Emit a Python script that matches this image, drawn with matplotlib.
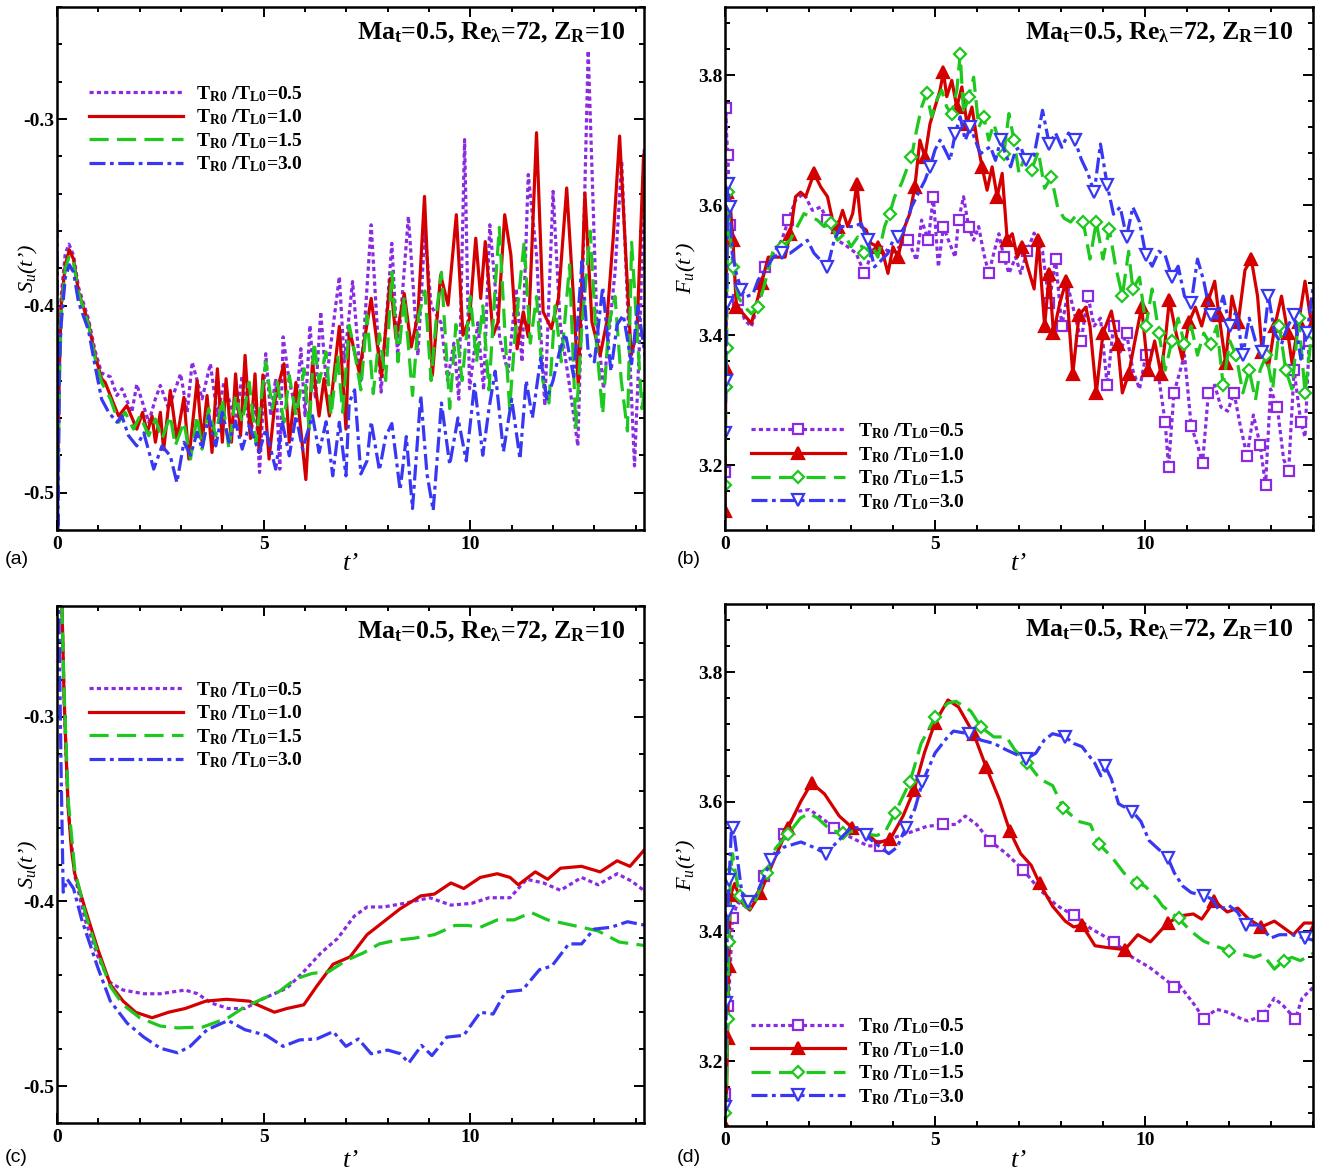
import numpy as np
import matplotlib
matplotlib.use("Agg")
import matplotlib.pyplot as plt
from matplotlib.ticker import FixedLocator, MultipleLocator, FormatStrFormatter

plt.rcParams.update({
    "font.family": ["Liberation Serif", "DejaVu Serif"],
    "mathtext.fontset": "custom",
    "mathtext.rm": "Liberation Serif",
    "mathtext.it": "Liberation Serif:italic",
    "mathtext.bf": "Liberation Serif:bold",
    "axes.unicode_minus": False,
})

# ---------------- data ----------------
RATIOS = ["0.5", "1.0", "1.5", "3.0"]
PANEL_LETTERS = ["(a)", "(b)", "(c)", "(d)"]
ANNOT = r"Ma$_{\mathbf{t}}$=0.5, Re$_{\mathbf{\lambda}}$=72, Z$_{\mathbf{R}}$=10"

# (a) S_u(t'), raw
A_05 = [(0,-0.52),(0.05,-0.43),(0.1,-0.395),(0.2,-0.372),(0.29,-0.367),(0.4,-0.373),(0.52,-0.390),(0.76,-0.407),(0.92,-0.424),(1.08,-0.436),(1.29,-0.438),(1.45,-0.448),(1.57,-0.4444),(1.81,-0.457),(1.93,-0.442),(2.22,-0.4623),(2.38,-0.4498),(2.50,-0.4426),(2.70,-0.455),(2.99,-0.4364),(3.15,-0.457),(3.27,-0.4301),(3.51,-0.4498),(3.71,-0.431),(3.88,-0.4588),(4.04,-0.4409),(4.32,-0.4623),(4.48,-0.4373),(4.68,-0.4695),(4.81,-0.4516),(4.90,-0.4892),(5.05,-0.4256),(5.17,-0.4588),(5.29,-0.439),(5.39,-0.4874),(5.47,-0.4166),(5.62,-0.4409),(5.78,-0.455),(5.9,-0.4229),(6.0,-0.4588),(6.12,-0.4104),(6.25,-0.4498),(6.38,-0.4032),(6.51,-0.4409),(6.83,-0.3844),(6.95,-0.430),(7.15,-0.387),(7.35,-0.44),(7.6,-0.3566),(7.84,-0.4462),(8.1,-0.3665),(8.24,-0.4265),(8.5,-0.3521),(8.73,-0.4265),(8.9,-0.36),(9.05,-0.40),(9.29,-0.409),(9.45,-0.44),(9.6,-0.42),(9.72,-0.45),(9.86,-0.311),(9.98,-0.4444),(10.18,-0.409),(10.32,-0.445),(10.47,-0.3566),(10.71,-0.4175),(10.91,-0.4355),(11.11,-0.3907),(11.25,-0.43),(11.4,-0.3297),(11.6,-0.3727),(11.8,-0.4534),(12.0,-0.3387),(12.17,-0.409),(12.41,-0.4444),(12.6,-0.475),(12.73,-0.3728),(12.85,-0.2634),(13.06,-0.409),(13.22,-0.4444),(13.5,-0.3817),(13.66,-0.3226),(13.82,-0.409),(13.97,-0.4857),(14.11,-0.409),(14.21,-0.3154),(14.25,-0.35)]
A_10 = [(0,-0.52),(0.05,-0.44),(0.1,-0.40),(0.2,-0.378),(0.3,-0.370),(0.4,-0.375),(0.52,-0.3925),(0.76,-0.409),(0.92,-0.4265),(1.08,-0.439),(1.165,-0.441),(1.29,-0.448),(1.49,-0.459),(1.69,-0.4534),(1.93,-0.466),(2.07,-0.457),(2.18,-0.468),(2.30,-0.459),(2.38,-0.473),(2.50,-0.457),(2.58,-0.477),(2.74,-0.4453),(2.90,-0.4713),(3.07,-0.449),(3.19,-0.482),(3.39,-0.440),(3.51,-0.473),(3.63,-0.448),(3.75,-0.4785),(3.88,-0.4337),(4.0,-0.473),(4.09,-0.439),(4.22,-0.473),(4.32,-0.4364),(4.44,-0.4695),(4.55,-0.4265),(4.68,-0.471),(4.79,-0.4364),(4.89,-0.4785),(4.98,-0.437),(5.13,-0.482),(5.29,-0.448),(5.49,-0.431),(5.62,-0.473),(5.78,-0.441),(6.02,-0.493),(6.18,-0.430),(6.34,-0.459),(6.46,-0.439),(6.59,-0.459),(6.83,-0.411),(6.99,-0.466),(7.07,-0.4122),(7.31,-0.4355),(7.6,-0.396),(7.85,-0.438),(8.06,-0.3853),(8.2,-0.4175),(8.4,-0.3934),(8.57,-0.422),(8.73,-0.405),(8.89,-0.3414),(9.08,-0.4373),(9.28,-0.3835),(9.46,-0.3996),(9.66,-0.3512),(9.82,-0.4157),(9.98,-0.4068),(10.13,-0.3638),(10.25,-0.396),(10.36,-0.3656),(10.55,-0.4157),(10.67,-0.4086),(10.83,-0.3512),(10.98,-0.3728),(11.13,-0.423),(11.28,-0.4032),(11.4,-0.4166),(11.6,-0.3073),(11.76,-0.4032),(11.96,-0.4122),(12.13,-0.396),(12.33,-0.3369),(12.49,-0.3943),(12.61,-0.4426),(12.77,-0.3396),(12.94,-0.4086),(13.14,-0.4265),(13.3,-0.4086),(13.46,-0.362),(13.61,-0.3091),(13.76,-0.3728),(13.89,-0.4265),(14.03,-0.414),(14.19,-0.319),(14.25,-0.37)]
A_15 = [(0,-0.53),(0.05,-0.45),(0.1,-0.405),(0.2,-0.38),(0.3,-0.373),(0.4,-0.377),(0.52,-0.393),(0.76,-0.41),(0.92,-0.428),(1.08,-0.441),(1.29,-0.4498),(1.49,-0.4623),(1.65,-0.457),(1.85,-0.466),(2.01,-0.4588),(2.22,-0.4695),(2.38,-0.4606),(2.54,-0.4713),(2.74,-0.4588),(2.86,-0.4749),(3.07,-0.4623),(3.23,-0.482),(3.39,-0.4588),(3.51,-0.4767),(3.67,-0.455),(3.84,-0.4695),(4.0,-0.4498),(4.16,-0.4767),(4.32,-0.448),(4.48,-0.4623),(4.65,-0.4409),(4.81,-0.473),(5.05,-0.430),(5.21,-0.455),(5.33,-0.4409),(5.49,-0.4623),(5.62,-0.4373),(5.78,-0.4588),(5.98,-0.4337),(6.1,-0.466),(6.22,-0.4193),(6.34,-0.4409),(6.51,-0.4247),(6.63,-0.4588),(6.79,-0.4265),(6.91,-0.457),(7.07,-0.4104),(7.2,-0.425),(7.35,-0.445),(7.5,-0.405),(7.65,-0.447),(7.8,-0.415),(7.95,-0.44),(8.1,-0.382),(8.25,-0.43),(8.4,-0.395),(8.6,-0.448),(8.75,-0.405),(8.9,-0.392),(9.05,-0.44),(9.2,-0.40),(9.3,-0.382),(9.5,-0.455),(9.65,-0.41),(9.8,-0.44),(10.0,-0.395),(10.15,-0.43),(10.3,-0.40),(10.45,-0.445),(10.6,-0.39),(10.7,-0.358),(10.85,-0.42),(10.95,-0.455),(11.1,-0.41),(11.3,-0.366),(11.45,-0.42),(11.6,-0.395),(11.75,-0.44),(11.9,-0.452),(12.05,-0.40),(12.2,-0.43),(12.4,-0.378),(12.55,-0.465),(12.7,-0.41),(12.9,-0.36),(13.05,-0.42),(13.2,-0.458),(13.35,-0.41),(13.5,-0.395),(13.65,-0.44),(13.8,-0.467),(13.9,-0.366),(14.05,-0.42),(14.15,-0.455),(14.25,-0.44)]
A_30 = [(0,-0.34),(0.02,-0.53),(0.06,-0.43),(0.1,-0.41),(0.2,-0.385),(0.3,-0.378),(0.4,-0.382),(0.52,-0.398),(0.76,-0.413),(0.92,-0.432),(1.08,-0.450),(1.25,-0.457),(1.45,-0.4623),(1.57,-0.459),(1.73,-0.4695),(1.93,-0.475),(2.1,-0.468),(2.34,-0.4874),(2.54,-0.475),(2.74,-0.4803),(2.9,-0.4946),(3.07,-0.473),(3.23,-0.48),(3.39,-0.4677),(3.51,-0.4767),(3.67,-0.4588),(3.84,-0.475),(4.0,-0.457),(4.16,-0.473),(4.32,-0.462),(4.48,-0.4767),(4.65,-0.464),(4.89,-0.4785),(5.05,-0.466),(5.29,-0.4874),(5.45,-0.4623),(5.62,-0.4803),(5.78,-0.4588),(5.94,-0.4767),(6.18,-0.4588),(6.34,-0.4785),(6.51,-0.462),(6.67,-0.491),(6.83,-0.4623),(6.99,-0.491),(7.07,-0.4516),(7.2,-0.445),(7.35,-0.49),(7.5,-0.483),(7.6,-0.462),(7.8,-0.488),(7.95,-0.47),(8.1,-0.463),(8.3,-0.4986),(8.45,-0.47),(8.6,-0.5085),(8.8,-0.448),(8.95,-0.49),(9.1,-0.5095),(9.3,-0.452),(9.5,-0.485),(9.7,-0.46),(9.9,-0.483),(10.1,-0.442),(10.3,-0.48),(10.45,-0.455),(10.6,-0.435),(10.8,-0.478),(11.0,-0.45),(11.2,-0.482),(11.35,-0.44),(11.5,-0.46),(11.7,-0.428),(11.85,-0.45),(12.0,-0.44),(12.15,-0.425),(12.3,-0.415),(12.5,-0.438),(12.7,-0.376),(12.85,-0.425),(13.0,-0.43),(13.2,-0.39),(13.4,-0.435),(13.55,-0.41),(13.7,-0.405),(13.9,-0.431),(14.05,-0.40),(14.25,-0.43)]

# (b) F_u(t'), raw
B_05 = [(0,3.19),(0.02,3.75),(0.04,3.705),(0.07,3.677),(0.12,3.57),(0.19,3.51),(0.31,3.454),(0.47,3.423),(0.63,3.413),(0.79,3.449),(0.95,3.505),(1.15,3.525),(1.35,3.546),(1.51,3.577),(1.68,3.608),(1.88,3.618),(2.08,3.592),(2.28,3.597),(2.44,3.577),(2.68,3.546),(2.92,3.536),(3.12,3.526),(3.32,3.495),(3.52,3.531),(3.72,3.536),(3.96,3.526),(4.16,3.536),(4.36,3.546),(4.56,3.515),(4.68,3.577),(4.84,3.546),(4.96,3.613),(5.08,3.505),(5.2,3.567),(5.32,3.546),(5.48,3.52),(5.56,3.577),(5.68,3.613),(5.8,3.567),(5.92,3.546),(6.04,3.567),(6.16,3.526),(6.28,3.495),(6.4,3.526),(6.52,3.556),(6.64,3.52),(6.76,3.495),(6.92,3.52),(7.04,3.495),(7.2,3.53),(7.36,3.557),(7.56,3.529),(7.72,3.449),(7.87,3.517),(8.02,3.414),(8.18,3.471),(8.33,3.431),(8.48,3.391),(8.64,3.46),(8.79,3.414),(8.94,3.426),(9.1,3.323),(9.25,3.414),(9.41,3.374),(9.56,3.403),(9.71,3.346),(9.87,3.317),(10.02,3.369),(10.17,3.334),(10.33,3.334),(10.48,3.266),(10.56,3.197),(10.69,3.311),(10.84,3.346),(10.94,3.369),(11.1,3.26),(11.25,3.231),(11.37,3.203),(11.51,3.311),(11.66,3.323),(11.81,3.289),(11.97,3.283),(12.12,3.311),(12.27,3.26),(12.43,3.214),(12.58,3.277),(12.74,3.231),(12.87,3.169),(12.99,3.317),(13.15,3.289),(13.3,3.209),(13.42,3.191),(13.55,3.346),(13.71,3.266),(13.81,3.243),(13.91,3.391),(14.02,3.443)]
B_10 = [(0,3.13),(0.02,3.35),(0.05,3.62),(0.11,3.613),(0.19,3.546),(0.27,3.443),(0.43,3.433),(0.63,3.418),(0.75,3.449),(0.87,3.48),(1.03,3.52),(1.23,3.52),(1.43,3.52),(1.55,3.556),(1.68,3.613),(1.8,3.62),(1.92,3.613),(2.12,3.649),(2.28,3.628),(2.44,3.613),(2.56,3.577),(2.68,3.567),(2.8,3.592),(2.92,3.567),(3.04,3.587),(3.14,3.633),(3.24,3.567),(3.36,3.562),(3.48,3.541),(3.64,3.536),(3.76,3.526),(3.88,3.495),(4.0,3.536),(4.12,3.52),(4.28,3.567),(4.4,3.587),(4.52,3.628),(4.64,3.7),(4.76,3.674),(4.88,3.725),(5.0,3.751),(5.12,3.777),(5.2,3.805),(5.28,3.767),(5.4,3.792),(5.52,3.751),(5.64,3.782),(5.76,3.725),(5.88,3.751),(6.0,3.7),(6.12,3.659),(6.24,3.623),(6.36,3.659),(6.48,3.613),(6.6,3.649),(6.72,3.546),(6.84,3.556),(6.96,3.52),(7.08,3.536),(7.2,3.506),(7.36,3.471),(7.46,3.546),(7.61,3.414),(7.72,3.494),(7.82,3.403),(7.97,3.449),(8.12,3.483),(8.28,3.34),(8.43,3.431),(8.59,3.443),(8.69,3.414),(8.84,3.311),(9.0,3.403),(9.2,3.437),(9.35,3.386),(9.46,3.311),(9.61,3.34),(9.76,3.391),(9.92,3.443),(10.07,3.346),(10.23,3.391),(10.38,3.34),(10.48,3.391),(10.58,3.454),(10.74,3.403),(10.89,3.363),(11.05,3.42),(11.2,3.443),(11.35,3.414),(11.51,3.454),(11.66,3.483),(11.76,3.431),(11.92,3.357),(12.07,3.46),(12.22,3.42),(12.38,3.5),(12.53,3.517),(12.68,3.46),(12.79,3.374),(12.94,3.351),(13.09,3.414),(13.25,3.46),(13.4,3.403),(13.5,3.357),(13.66,3.42),(13.81,3.483),(13.97,3.414),(14.05,3.44)]
B_15 = [(0,3.17),(0.02,3.32),(0.04,3.38),(0.06,3.62),(0.1,3.572),(0.19,3.505),(0.31,3.459),(0.47,3.443),(0.63,3.433),(0.79,3.443),(0.95,3.48),(1.15,3.531),(1.35,3.536),(1.55,3.546),(1.72,3.567),(1.88,3.587),(2.04,3.582),(2.2,3.577),(2.36,3.567),(2.52,3.572),(2.68,3.546),(2.84,3.556),(3.0,3.536),(3.16,3.551),(3.32,3.526),(3.48,3.541),(3.64,3.52),(3.8,3.567),(3.92,3.587),(4.04,3.613),(4.2,3.633),(4.32,3.654),(4.44,3.674),(4.56,3.715),(4.68,3.751),(4.8,3.772),(4.92,3.736),(5.04,3.762),(5.16,3.777),(5.28,3.751),(5.4,3.741),(5.52,3.777),(5.6,3.833),(5.68,3.741),(5.8,3.767),(5.92,3.797),(6.04,3.72),(6.16,3.736),(6.28,3.7),(6.4,3.725),(6.52,3.7),(6.64,3.679),(6.76,3.741),(6.88,3.7),(7.0,3.649),(7.15,3.677),(7.3,3.654),(7.46,3.683),(7.61,3.626),(7.77,3.643),(7.92,3.597),(8.07,3.58),(8.23,3.574),(8.38,3.586),(8.53,3.574),(8.69,3.517),(8.84,3.574),(9.0,3.517),(9.15,3.563),(9.3,3.506),(9.46,3.46),(9.61,3.529),(9.71,3.471),(9.87,3.489),(10.02,3.414),(10.17,3.471),(10.33,3.403),(10.48,3.346),(10.64,3.391),(10.79,3.426),(10.94,3.386),(11.1,3.414),(11.25,3.369),(11.4,3.403),(11.56,3.386),(11.71,3.414),(11.86,3.323),(12.02,3.391),(12.17,3.369),(12.33,3.311),(12.48,3.346),(12.63,3.3),(12.74,3.346),(12.89,3.369),(13.04,3.317),(13.2,3.414),(13.35,3.346),(13.5,3.317),(13.66,3.426),(13.81,3.311),(13.97,3.403),(14.05,3.40)]
B_30 = [(0,3.25),(0.02,3.33),(0.04,3.45),(0.06,3.633),(0.11,3.597),(0.19,3.52),(0.27,3.495),(0.39,3.469),(0.51,3.459),(0.67,3.464),(0.79,3.485),(0.95,3.5),(1.15,3.52),(1.35,3.526),(1.55,3.526),(1.76,3.536),(1.96,3.546),(2.12,3.526),(2.28,3.515),(2.44,3.505),(2.6,3.546),(2.76,3.567),(2.92,3.567),(3.08,3.567),(3.24,3.572),(3.4,3.546),(3.56,3.505),(3.72,3.515),(3.88,3.526),(4.0,3.546),(4.12,3.551),(4.28,3.567),(4.44,3.597),(4.6,3.618),(4.76,3.638),(4.88,3.659),(5.0,3.685),(5.12,3.7),(5.24,3.685),(5.36,3.669),(5.48,3.71),(5.6,3.736),(5.72,3.7),(5.84,3.72),(5.96,3.7),(6.08,3.679),(6.2,3.685),(6.32,3.69),(6.44,3.669),(6.56,3.7),(6.68,3.679),(6.8,3.659),(6.92,3.685),(7.04,3.69),(7.16,3.669),(7.36,3.677),(7.56,3.746),(7.72,3.694),(7.87,3.711),(8.02,3.689),(8.18,3.711),(8.33,3.7),(8.48,3.671),(8.64,3.649),(8.79,3.62),(8.94,3.694),(9.1,3.631),(9.25,3.586),(9.41,3.597),(9.56,3.551),(9.71,3.597),(9.87,3.574),(10.02,3.523),(10.17,3.506),(10.33,3.529),(10.48,3.523),(10.64,3.489),(10.79,3.506),(10.94,3.46),(11.1,3.449),(11.25,3.517),(11.4,3.483),(11.56,3.431),(11.71,3.426),(11.86,3.46),(12.02,3.414),(12.17,3.437),(12.33,3.369),(12.48,3.426),(12.63,3.391),(12.79,3.374),(12.94,3.46),(13.09,3.403),(13.25,3.386),(13.4,3.414),(13.55,3.431),(13.71,3.363),(13.86,3.403),(14.02,3.483)]

# (c) S_u(t'), filtered
C_05 = [(0,-0.18),(0.12,-0.24),(0.17,-0.29),(0.27,-0.35),(0.43,-0.386),(0.68,-0.410),(0.99,-0.430),(1.29,-0.444),(1.6,-0.448),(2.1,-0.450),(2.5,-0.450),(3.1,-0.448),(3.4,-0.450),(3.73,-0.455),(4.14,-0.458),(4.55,-0.458),(4.95,-0.453),(5.56,-0.447),(5.97,-0.438),(6.38,-0.428),(6.79,-0.420),(7.19,-0.408),(7.5,-0.403),(7.9,-0.403),(8.41,-0.401),(9.02,-0.398),(9.53,-0.402),(10.04,-0.401),(10.45,-0.398),(10.96,-0.398),(11.36,-0.388),(11.77,-0.390),(12.18,-0.394),(12.69,-0.387),(13.09,-0.391),(13.55,-0.385),(13.9,-0.389),(14.25,-0.395)]
C_10 = [(0,-0.18),(0.12,-0.24),(0.17,-0.288),(0.22,-0.32),(0.27,-0.349),(0.35,-0.372),(0.43,-0.385),(0.68,-0.404),(0.99,-0.426),(1.29,-0.445),(1.6,-0.454),(1.9,-0.460),(2.3,-0.463),(2.7,-0.460),(3.1,-0.458),(3.6,-0.454),(4.1,-0.453),(4.65,-0.454),(4.95,-0.457),(5.26,-0.460),(5.56,-0.458),(5.97,-0.456),(6.28,-0.446),(6.68,-0.434),(7.09,-0.430),(7.5,-0.418),(7.9,-0.411),(8.3,-0.404),(8.8,-0.397),(9.13,-0.396),(9.53,-0.390),(9.84,-0.393),(10.24,-0.387),(10.65,-0.385),(10.96,-0.387),(11.16,-0.391),(11.57,-0.384),(11.87,-0.388),(12.18,-0.382),(12.69,-0.381),(13.14,-0.384),(13.55,-0.378),(13.86,-0.381),(14.25,-0.371)]
C_15 = [(0,-0.18),(0.12,-0.24),(0.17,-0.285),(0.27,-0.345),(0.43,-0.383),(0.68,-0.406),(0.99,-0.428),(1.29,-0.446),(1.6,-0.456),(2.0,-0.463),(2.5,-0.4675),(2.92,-0.4685),(3.53,-0.468),(4.14,-0.463),(4.55,-0.457),(4.95,-0.453),(5.36,-0.449),(5.77,-0.442),(6.17,-0.439),(6.58,-0.438),(6.99,-0.432),(7.4,-0.428),(7.8,-0.423),(8.21,-0.421),(8.62,-0.420),(9.13,-0.418),(9.63,-0.413),(9.94,-0.413),(10.24,-0.414),(10.65,-0.410),(11.06,-0.410),(11.47,-0.406),(11.87,-0.410),(12.28,-0.412),(12.69,-0.414),(13.09,-0.416),(13.6,-0.422),(14.25,-0.424)]
C_30 = [(0,-0.20),(0.05,-0.25),(0.1,-0.33),(0.15,-0.395),(0.25,-0.388),(0.4,-0.393),(0.6,-0.41),(0.99,-0.436),(1.29,-0.454),(1.7,-0.466),(2.1,-0.4735),(2.5,-0.4795),(2.92,-0.482),(3.22,-0.4785),(3.63,-0.4695),(4.14,-0.4645),(4.55,-0.4695),(5.06,-0.4725),(5.47,-0.4785),(5.87,-0.475),(6.28,-0.4745),(6.68,-0.4705),(6.99,-0.4785),(7.29,-0.4745),(7.6,-0.4825),(8.0,-0.4805),(8.31,-0.4825),(8.51,-0.4875),(8.82,-0.478),(9.07,-0.4835),(9.43,-0.4735),(9.84,-0.4725),(10.24,-0.460),(10.55,-0.461),(10.85,-0.449),(11.26,-0.448),(11.67,-0.437),(11.97,-0.435),(12.38,-0.423),(12.69,-0.423),(12.99,-0.415),(13.4,-0.414),(13.8,-0.411),(14.25,-0.413)]

# (d) F_u(t'), filtered
D_05 = [(0,3.15),(0.08,3.285),(0.18,3.42),(0.3,3.445),(0.45,3.44),(0.6,3.435),(0.75,3.455),(0.94,3.485),(1.1,3.51),(1.4,3.55),(1.7,3.585),(2.01,3.588),(2.3,3.575),(2.6,3.56),(3.0,3.545),(3.4,3.532),(3.7,3.532),(3.89,3.543),(4.2,3.548),(4.5,3.555),(4.8,3.562),(5.2,3.565),(5.5,3.565),(5.72,3.578),(5.99,3.565),(6.3,3.54),(6.7,3.52),(7.1,3.495),(7.47,3.466),(7.9,3.44),(8.3,3.425),(8.7,3.405),(9.1,3.39),(9.27,3.384),(9.7,3.36),(10.1,3.345),(10.4,3.33),(10.7,3.315),(10.81,3.318),(11.2,3.285),(11.4,3.265),(11.7,3.28),(12.0,3.275),(12.3,3.265),(12.45,3.262),(12.8,3.27),(13.08,3.297),(13.3,3.285),(13.58,3.265),(13.74,3.297),(14.1,3.32)]
D_10 = [(0,3.10),(0.03,3.126),(0.06,3.236),(0.09,3.347),(0.13,3.456),(0.23,3.474),(0.39,3.445),(0.59,3.433),(0.84,3.459),(1.1,3.50),(1.5,3.56),(1.8,3.60),(2.06,3.629),(2.37,3.612),(2.72,3.578),(3.03,3.560),(3.33,3.555),(3.63,3.536),(3.94,3.543),(4.24,3.578),(4.5,3.618),(4.75,3.676),(5.0,3.722),(5.31,3.757),(5.56,3.746),(5.92,3.705),(6.22,3.653),(6.53,3.604),(6.78,3.555),(7.04,3.520),(7.29,3.502),(7.49,3.474),(7.8,3.439),(8.1,3.416),(8.3,3.407),(8.5,3.41),(8.81,3.378),(9.12,3.375),(9.52,3.372),(9.83,3.395),(10.13,3.384),(10.54,3.413),(10.84,3.424),(11.15,3.427),(11.35,3.419),(11.65,3.447),(11.96,3.430),(12.21,3.436),(12.47,3.419),(12.77,3.407),(13.08,3.416),(13.53,3.395),(13.79,3.413),(14.1,3.413)]
D_15 = [(0,3.12),(0.03,3.14),(0.06,3.265),(0.09,3.383),(0.13,3.49),(0.18,3.52),(0.25,3.49),(0.35,3.455),(0.5,3.437),(0.65,3.435),(0.8,3.46),(1.0,3.49),(1.2,3.528),(1.5,3.55),(1.8,3.575),(2.0,3.582),(2.2,3.575),(2.52,3.556),(2.8,3.552),(3.1,3.555),(3.4,3.55),(3.6,3.548),(3.8,3.552),(4.04,3.582),(4.4,3.63),(4.67,3.69),(5.0,3.73),(5.3,3.752),(5.5,3.755),(5.85,3.74),(6.1,3.715),(6.4,3.70),(6.7,3.70),(6.9,3.68),(7.2,3.66),(7.5,3.635),(7.8,3.625),(8.05,3.591),(8.4,3.57),(8.7,3.565),(8.9,3.535),(9.22,3.514),(9.5,3.49),(9.8,3.475),(10.0,3.47),(10.3,3.45),(10.42,3.439),(10.8,3.42),(11.1,3.40),(11.4,3.385),(11.7,3.377),(12.0,3.37),(12.3,3.365),(12.6,3.36),(12.8,3.365),(13.08,3.342),(13.3,3.355),(13.5,3.36),(13.7,3.355),(14.1,3.37)]
D_30 = [(0,3.13),(0.03,3.29),(0.06,3.43),(0.1,3.48),(0.15,3.555),(0.2,3.56),(0.3,3.51),(0.4,3.46),(0.55,3.445),(0.7,3.45),(0.9,3.48),(1.1,3.51),(1.4,3.53),(1.81,3.538),(2.1,3.53),(2.4,3.52),(2.7,3.54),(3.0,3.56),(3.2,3.56),(3.35,3.548),(3.6,3.535),(3.9,3.52),(4.1,3.53),(4.3,3.56),(4.52,3.589),(4.7,3.63),(5.0,3.675),(5.3,3.70),(5.44,3.709),(5.8,3.705),(6.1,3.695),(6.4,3.69),(6.7,3.68),(7.17,3.666),(7.4,3.675),(7.6,3.695),(7.8,3.705),(8.1,3.70),(8.3,3.69),(8.5,3.685),(8.8,3.66),(8.95,3.64),(9.05,3.655),(9.2,3.635),(9.37,3.597),(9.7,3.585),(9.9,3.57),(10.1,3.54),(10.54,3.514),(10.7,3.49),(10.9,3.47),(11.1,3.46),(11.4,3.455),(11.6,3.45),(11.76,3.433),(12.0,3.44),(12.2,3.43),(12.4,3.41),(12.7,3.41),(13.0,3.39),(13.2,3.395),(13.5,3.395),(13.8,3.39),(14.1,3.385)]

# ---------------- styles ----------------
COLORS = ["#8a2be2", "#d40000", "#1ec81e", "#3838f2"]
LSTYLES = [(0, (1.3, 1.0)), "-", (0, (6.0, 2.6)), (0, (5.0, 1.4, 1.2, 1.4))]
MARKERS = ["s", "^", "D", "v"]
MSIZE = [7, 9, 6.5, 8.5]
MFACE = ["white", None, "white", "white"]

W, H = 1329, 1173
fig = plt.figure(figsize=(W / 100, H / 100), dpi=100)

def pos(l, t, r, b):
    return [l / W, 1 - b / H, (r - l) / W, (b - t) / H]

axes = [fig.add_axes(pos(57, 7, 644, 530)),
        fig.add_axes(pos(725, 7, 1313, 530)),
        fig.add_axes(pos(57, 606, 644, 1123)),
        fig.add_axes(pos(725, 604, 1313, 1126))]

series = [[A_05, A_10, A_15, A_30], [B_05, B_10, B_15, B_30],
          [C_05, C_10, C_15, C_30], [D_05, D_10, D_15, D_30]]

XLAB_Y = [-0.044, -0.044, -0.052, -0.046]
LEG_ANCHOR = [(0.055, 0.853), (0.045, 0.208), (0.055, 0.857), (0.045, 0.21)]

for k, ax in enumerate(axes):
    is_F = k in (1, 3)
    for i in range(4):
        t, v = np.array(series[k][i]).T
        kw = dict(color=COLORS[i], lw=2.3, ls=LSTYLES[i],
                  label=r"T$_{\mathbf{R0}}$ /T$_{\mathbf{L0}}$=" + RATIOS[i])
        if is_F:
            kw.update(marker=MARKERS[i], ms=MSIZE[i], mew=1.6,
                      mfc=COLORS[i] if MFACE[i] is None else MFACE[i],
                      markevery=(0.09 if k == 1 else 0.075))
        ax.plot(t, v, **kw)

    if is_F:
        ax.set_xlim(0, 14.0)
        ax.set_ylim(3.1, 3.905)
        ax.yaxis.set_major_locator(FixedLocator([3.2, 3.4, 3.6, 3.8]))
        ax.yaxis.set_minor_locator(MultipleLocator(0.04))
        ax.yaxis.set_major_formatter(FormatStrFormatter("%.1f"))
        ylab = r"$F_u$(t’)"
    else:
        ax.set_xlim(0, 14.2)
        ax.set_ylim(-0.52, -0.24)
        ax.yaxis.set_major_locator(FixedLocator([-0.5, -0.4, -0.3]))
        ax.yaxis.set_minor_locator(MultipleLocator(0.02))
        ax.yaxis.set_major_formatter(FormatStrFormatter("%.1f"))
        ylab = r"$S_u$(t’)"
    ax.xaxis.set_major_locator(FixedLocator([0, 5, 10]))
    ax.xaxis.set_minor_locator(MultipleLocator(1))
    ax.xaxis.set_major_formatter(FormatStrFormatter("%d"))

    ax.tick_params(which="both", direction="in", top=True, right=True, width=1.4)
    ax.tick_params(which="major", length=7.5, labelsize=14)
    ax.tick_params(which="minor", length=3.8)
    ax.tick_params(axis="y", pad=2)
    ax.tick_params(axis="x", pad=4)
    for lab in ax.get_xticklabels() + ax.get_yticklabels():
        lab.set_fontweight("bold")
    for sp in ax.spines.values():
        sp.set_linewidth(1.8)

    ax.set_ylabel(ylab, fontsize=16, fontstyle="italic")
    ax.set_xlabel("t’", fontsize=19, fontstyle="italic")
    ax.yaxis.set_label_coords(-0.046 if is_F else -0.029, 0.5)
    ax.xaxis.set_label_coords(0.5, XLAB_Y[k])

    ax.text(0.968, 0.95, ANNOT, transform=ax.transAxes, ha="right", va="center",
            fontsize=18.5, fontweight="bold")

    ax.legend(loc="upper left", bbox_to_anchor=LEG_ANCHOR[k], frameon=False,
              prop={"size": 14, "weight": "bold"}, handlelength=4.8,
              handletextpad=0.7, labelspacing=0.2, borderpad=0,
              borderaxespad=0, numpoints=1)

for k, (x, y) in enumerate([(5, 560), (677, 560), (5, 1158), (677, 1158)]):
    fig.text(x / W, 1 - y / H, PANEL_LETTERS[k], fontsize=14,
             family=["Liberation Sans", "DejaVu Sans"], va="center", ha="left")

fig.savefig("out.png", dpi=100)
